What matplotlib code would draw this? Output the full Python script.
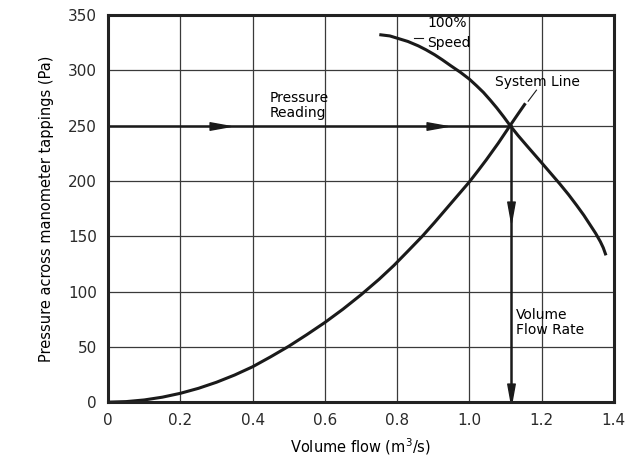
import numpy as np
import matplotlib.pyplot as plt
from matplotlib.path import Path

# fan curve at 100% speed
fan_q = [0.755, 0.78, 0.80, 0.83, 0.859, 0.88, 0.904, 0.925, 0.949, 0.976, 1.0,
         1.02, 1.039, 1.058, 1.076, 1.095, 1.113, 1.135, 1.16, 1.18, 1.2, 1.225,
         1.25, 1.275, 1.297, 1.317, 1.335, 1.35, 1.363, 1.371, 1.377]
fan_p = [332, 331, 329, 326, 322, 318.5, 314, 309.5, 304, 298, 292,
         286, 280, 273, 266, 258, 250, 241, 231.5, 224, 216.5, 207,
         197.5, 187.5, 178, 169, 160, 152.5, 145, 139.5, 134]

# system line
sys_q = [0.0, 0.05, 0.1, 0.15, 0.2, 0.25, 0.3, 0.35, 0.4, 0.45, 0.5, 0.55, 0.6,
         0.65, 0.7, 0.75, 0.791, 0.83, 0.87, 0.904, 0.95, 1.0, 1.025, 1.047,
         1.08, 1.113, 1.135, 1.153]
sys_p = [0, 0.5, 2, 4.5, 8, 12.5, 18, 24.5, 32, 41, 50.5, 61, 72,
         84, 97, 111, 123.5, 136.5, 150, 162.5, 180, 199, 209.5, 219,
         234, 250, 260.5, 269]

op_q = 1.115
op_p = 250

xticks = [0, 0.2, 0.4, 0.6, 0.8, 1.0, 1.2, 1.4]
xticklabels = ["0", "0.2", "0.4", "0.6", "0.8", "1.0", "1.2", "1.4"]
yticks = [0, 50, 100, 150, 200, 250, 300, 350]

head = Path([(-1, -0.36), (1, 0), (-1, 0.36), (-1, -0.36)],
            [Path.MOVETO, Path.LINETO, Path.LINETO, Path.CLOSEPOLY])

plt.rcParams['font.family'] = 'DejaVu Sans'
fig = plt.figure(figsize=(6.4, 4.66), dpi=100)
ax = fig.add_axes([0.169, 0.137, 0.79, 0.831])

ax.set_xlim(0, 1.4)
ax.set_ylim(0, 350)
ax.set_xticks(xticks)
ax.set_xticklabels(xticklabels)
ax.set_yticks(yticks)
ax.tick_params(length=0, labelsize=11, colors='#2a2a2a', pad=8)
ax.grid(True, color='#3a3a3a', lw=0.9)
ax.set_axisbelow(True)
for s in ax.spines.values():
    s.set_linewidth(2.2)
    s.set_color('#222222')

ax.plot(fan_q, fan_p, color='#1a1a1a', lw=2.2, solid_joinstyle='round')
ax.plot(sys_q, sys_p, color='#1a1a1a', lw=2.2, solid_joinstyle='round')

# pressure reading and flow rate arrows
ax.plot([0, op_q], [op_p, op_p], color='#1a1a1a', lw=1.8)
ax.plot([op_q, op_q], [op_p, 0], color='#1a1a1a', lw=1.8)
ax.plot([0.31, 0.91], [op_p, op_p], ls='none', marker=head, ms=15, color='#1a1a1a')
rot = Path(head.vertices @ np.array([[0, -1], [1, 0]]), head.codes)
ax.plot([op_q, op_q], [172, 7], ls='none', marker=rot, ms=15, color='#1a1a1a')

# leader lines
ax.plot([1.163, 1.186], [272, 282], color='#1a1a1a', lw=0.8)
ax.plot([0.848, 0.872], [329, 329], color='#1a1a1a', lw=0.8)

ax.text(0.884, 343, "100%", fontsize=10, va='center', ha='left')
ax.text(0.884, 325, "Speed", fontsize=10, va='center', ha='left')
ax.text(1.07, 289, "System Line", fontsize=10, va='center', ha='left')
ax.text(0.446, 268, "Pressure\nReading", fontsize=10, va='center', ha='left', linespacing=1.1)
ax.text(1.13, 72, "Volume\nFlow Rate", fontsize=10, va='center', ha='left', linespacing=1.1)

ax.set_xlabel("Volume flow (m$^3$/s)", fontsize=10.5, labelpad=6)
ax.set_ylabel("Pressure across manometer tappings (Pa)", fontsize=10.5, labelpad=10)

fig.savefig("out.png", dpi=100)
